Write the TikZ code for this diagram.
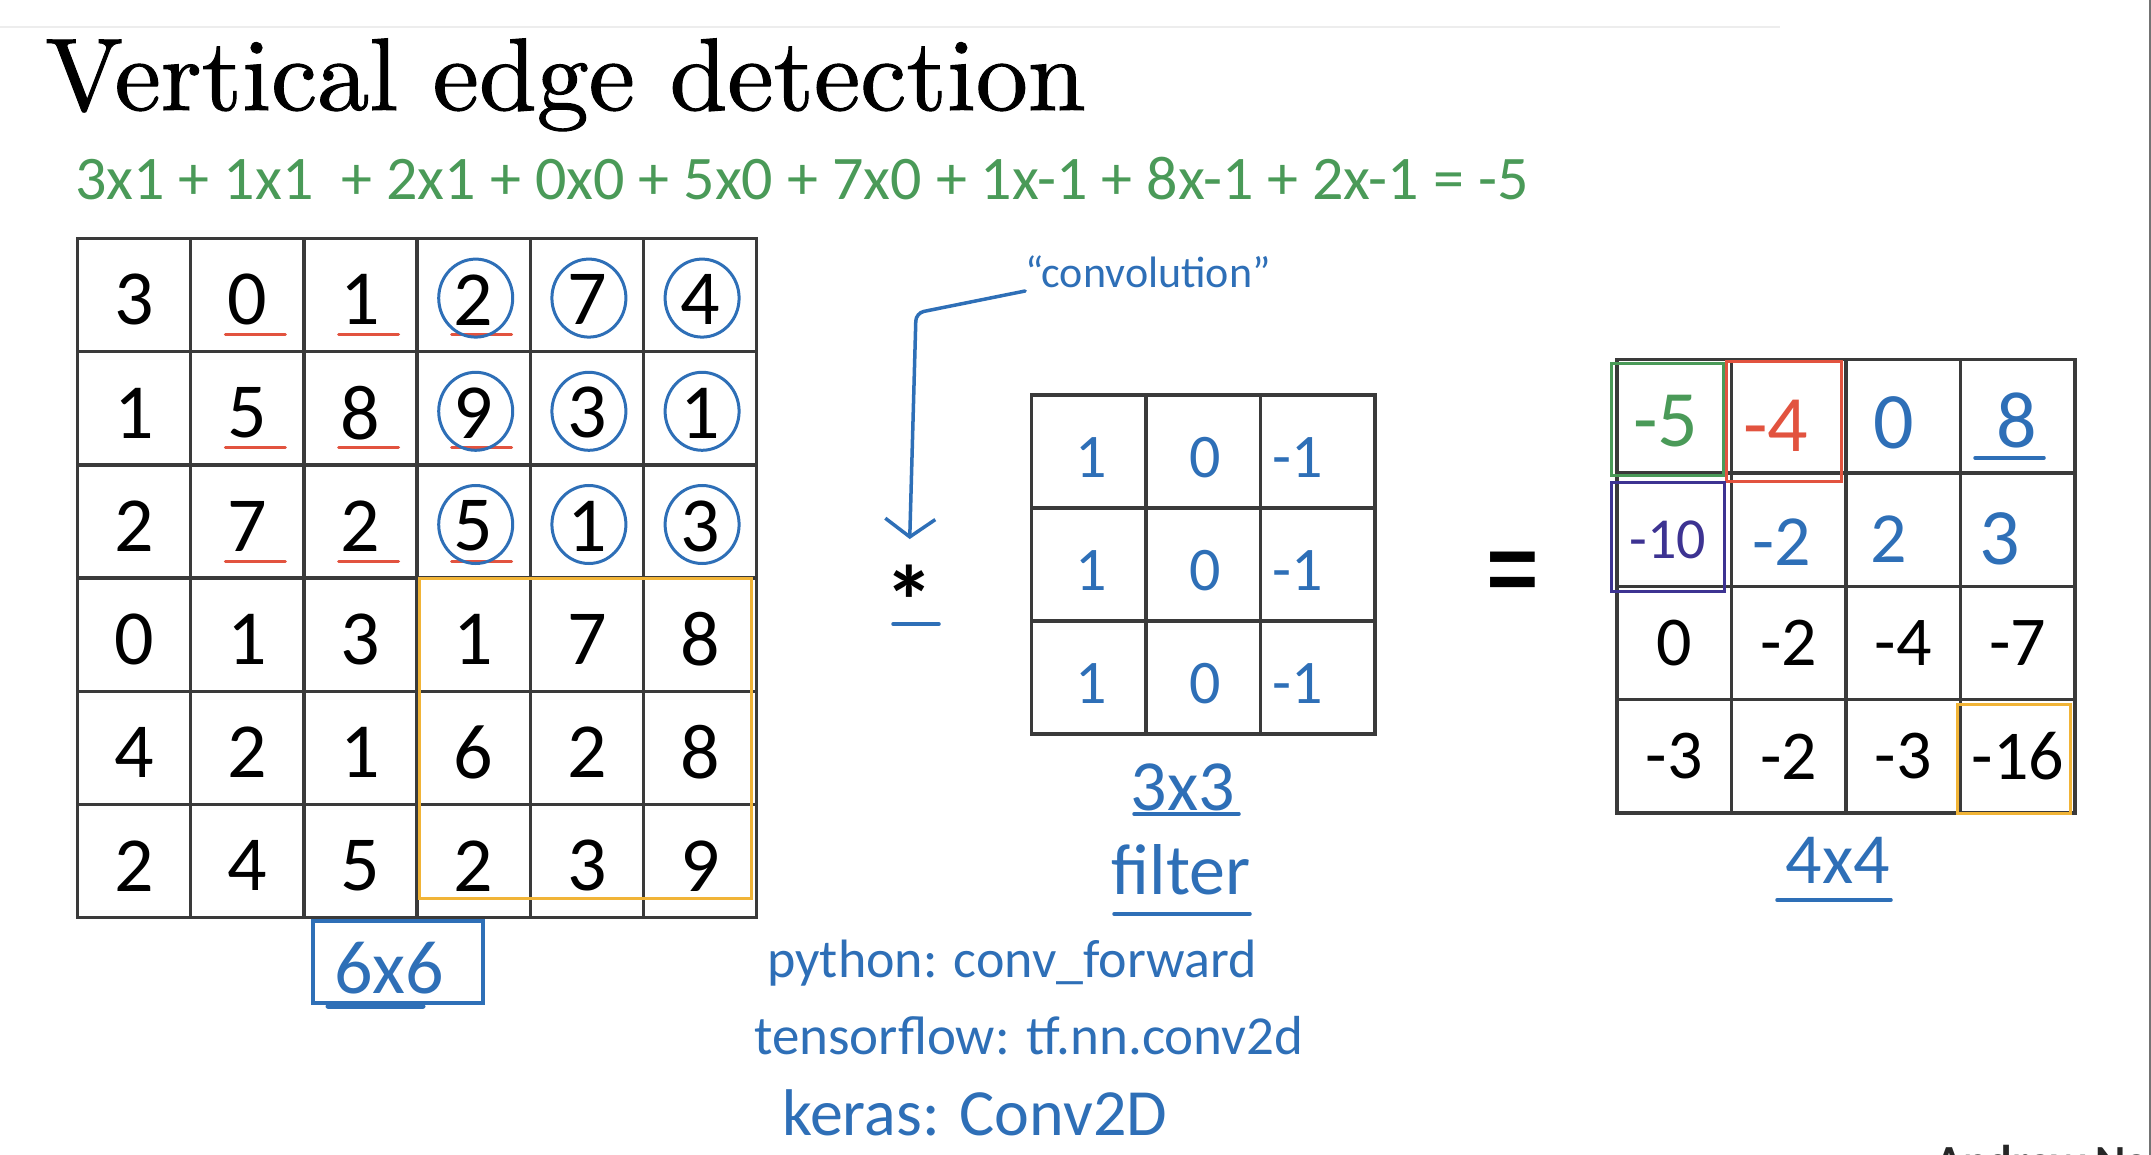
\documentclass[tikz,border=0pt]{standalone}
\usepackage{fontspec}
\usepackage{graphicx}
\usepackage{tikz}
\usepackage{xcolor}
\usetikzlibrary{arrows.meta,positioning,calc}
\newfontfamily\calib{Carlito}
\newfontfamily\titlefont{lmroman10-regular.otf}[FakeBold=1]
\definecolor{GridGray}{HTML}{3A3A3A}
\definecolor{Ink}{HTML}{2E6FB7}
\definecolor{InkGreen}{HTML}{4A9A58}
\definecolor{InkRed}{HTML}{E2533F}
\definecolor{InkPurple}{HTML}{3D3392}
\definecolor{InkYellow}{HTML}{F1B437}

\tikzset{
  gridline/.style={draw=GridGray,line width=3.5pt,line cap=rect},
  typed/.style={font=\calib\fontsize{78}{80}\selectfont,inner sep=0pt},
  typedsmall/.style={font=\calib\fontsize{70}{72}\selectfont,inner sep=0pt},
  hand/.style={text=#1,font=\calib\fontsize{72}{74}\selectfont,inner sep=0pt},
  hand/.default=Ink,
  stroke/.style={draw=#1,line width=3.5pt,line cap=round},
  stroke/.default=Ink
}

\begin{document}
\begin{tikzpicture}[x=1pt,y=-1pt]
  \useasboundingbox (0,0) rectangle (2151,1155);
  \fill[white] (0,0) rectangle (2151,1155);
  \draw[black!7,line width=2pt] (0,27) -- (1780,27);
  \draw[black!55,line width=2.5pt] (2150,0) -- (2150,1155);

  % title and the worked sum
  \node[anchor=base west,inner sep=0pt,font=\titlefont\fontsize{103}{110}\selectfont] (title) at (45,110) {\scalebox{1.01}[1]{Vertical edge detection}};
  \node[hand=InkGreen,anchor=base west,font=\calib\fontsize{62}{64}\selectfont] (sum) at (75,200)
    {3x1 + 1x1 \ + 2x1 + 0x0 + 5x0 + 7x0 + 1x-1 + 8x-1 + 2x-1 = -5};

  % 6x6 image
  \foreach \i in {0,...,6} {
    \draw[gridline] (77.5+113.2*\i,238.5) -- (77.5+113.2*\i,917.7);
    \draw[gridline] (77.5,238.5+113.2*\i) -- (756.7,238.5+113.2*\i);
  }
  \foreach \row [count=\r from 0] in {{3,0,1,2,7,4},{1,5,8,9,3,1},{2,7,2,5,1,3},{0,1,3,1,7,8},{4,2,1,6,2,8},{2,4,5,2,3,9}} {
    \foreach \v [count=\c from 0] in \row
      \node[typed] (in-\r-\c) at (134.1+113.2*\c,299.7+113.2*\r) {\v};
  }
  \foreach \r in {0,1,2} \foreach \c in {1,2,3}
    \draw[stroke=InkRed,line width=3pt] ($(in-\r-\c)+(-22,35)$) -- ++(60,0);
  \foreach \r in {0,1,2} \foreach \c in {3,4,5}
    \draw[stroke,line width=3pt] ($(in-\r-\c)+(2,-1.6)$) ellipse [x radius=37,y radius=39];
  \draw[stroke=InkYellow,line width=3pt] (419,578) rectangle (751,898);
  \node[hand,font=\calib\fontsize{76}{78}\selectfont] (insize) at (389,968) {6x6};
  \draw[stroke] (313,921) rectangle (483,1003);
  \draw[stroke,line width=5pt] (328,1006) -- (423,1006);

  % convolution operator
  \node[font=\calib\bfseries\fontsize{100}{100}\selectfont,inner sep=0pt] (star) at (909,601) {*};
  \draw[stroke] (893,624) -- (939,624);
  \node[hand,font=\calib\fontsize{44}{46}\selectfont] (convname) at (1148,272) {“convolution”};
  \coordinate (bend) at (916,313);
  \draw[stroke,-{Straight Barb[length=18pt,width=50pt]},rounded corners=8pt,shorten >=26pt]
    ([yshift=-19pt]convname.west) -- (bend) -- (star.north);

  % 3x3 filter
  \foreach \i in {0,...,3} {
    \draw[gridline] (1031.5+114.5*\i,395) -- (1031.5+114.5*\i,734);
    \draw[gridline] (1031.5,395+113*\i) -- (1375,395+113*\i);
  }
  \foreach \r in {0,1,2} {
    \node[hand,font=\calib\fontsize{62}{64}\selectfont] (k-\r-0) at (1091,457.5+113*\r) {1};
    \node[hand,font=\calib\fontsize{62}{64}\selectfont] (k-\r-1) at (1205,457.5+113*\r) {0};
    \node[hand,font=\calib\fontsize{62}{64}\selectfont] (k-\r-2) at (1298,457.5+113*\r) {-1};
  }
  \node[hand] (ksize) at (1183,787) {3x3};
  \draw[stroke] (1134,814) -- (1239,814);
  \node[hand] (kname) at (1181,870) {filter};
  \draw[stroke] (1114,914) -- (1250,914);

  \node[font=\calib\fontsize{110}{110}\selectfont,inner sep=0pt] (eq) at (1513,586) {\scalebox{1}[1.45]{=}};

  % 4x4 output
  \foreach \i in {0,...,4} {
    \draw[gridline] (1617+114.5*\i,359.5) -- (1617+114.5*\i,813);
    \draw[gridline] (1617,359.5+113.4*\i) -- (2075,359.5+113.4*\i);
  }
  \foreach \row [count=\r from 2] in {{0,-2,-4,-7},{-3,-2,-3,-16}} {
    \foreach \v [count=\c from 0] in \row
      \node[typedsmall] (out-\r-\c) at (1674.3+114.5*\c,416.2+113.4*\r) {\v};
  }
  \node[hand=InkGreen,font=\calib\fontsize{80}{80}\selectfont] (out-0-0) at (1666,421) {-5};
  \node[hand=InkRed,font=\calib\fontsize{80}{80}\selectfont] (out-0-1) at (1776,426) {-4};
  \node[hand,font=\calib\fontsize{80}{80}\selectfont] (out-0-2) at (1894,423) {0};
  \node[hand,font=\calib\fontsize{80}{80}\selectfont] (out-0-3) at (2017,420) {8};
  \draw[stroke] (1975,458) -- (2044,458);
  \node[hand=InkPurple,font=\calib\fontsize{58}{60}\selectfont] (out-1-0) at (1668,540) {-10};
  \node[hand,font=\calib\fontsize{72}{74}\selectfont] (out-1-1) at (1782,542) {-2};
  \node[hand,font=\calib\fontsize{72}{74}\selectfont] (out-1-2) at (1889,539) {2};
  \node[hand,font=\calib\fontsize{80}{80}\selectfont] (out-1-3) at (2000,539) {3};
  \draw[stroke=InkGreen,line width=3pt] (1611,363) rectangle (1723,475);
  \draw[stroke=InkRed,line width=3pt] (1726,361) rectangle (1841,481);
  \draw[stroke=InkPurple,line width=3pt] (1611,482) rectangle (1724,591);
  \draw[stroke=InkYellow,line width=3pt] (1957,704) rectangle (2070,813);
  \node[hand] (outsize) at (1838,860) {4x4};
  \draw[stroke] (1777,900) -- (1891,900);

  % library calls
  \node[hand,anchor=base west,font=\calib\fontsize{54}{56}\selectfont] (py) at (767,977) {python: conv\_forward};
  \node[hand,anchor=base west,font=\calib\fontsize{55}{57}\selectfont] (tf) at (754,1054) {tensorflow: tf.nn.conv2d};
  \node[hand,anchor=base west,font=\calib\fontsize{66}{68}\selectfont] (ks) at (782,1135) {keras: Conv2D};

  \node[anchor=base west,inner sep=0pt,font=\calib\bfseries\fontsize{46}{48}\selectfont,text=black!85] (credit) at (1935,1177) {Andrew Ng};
\end{tikzpicture}
\end{document}
